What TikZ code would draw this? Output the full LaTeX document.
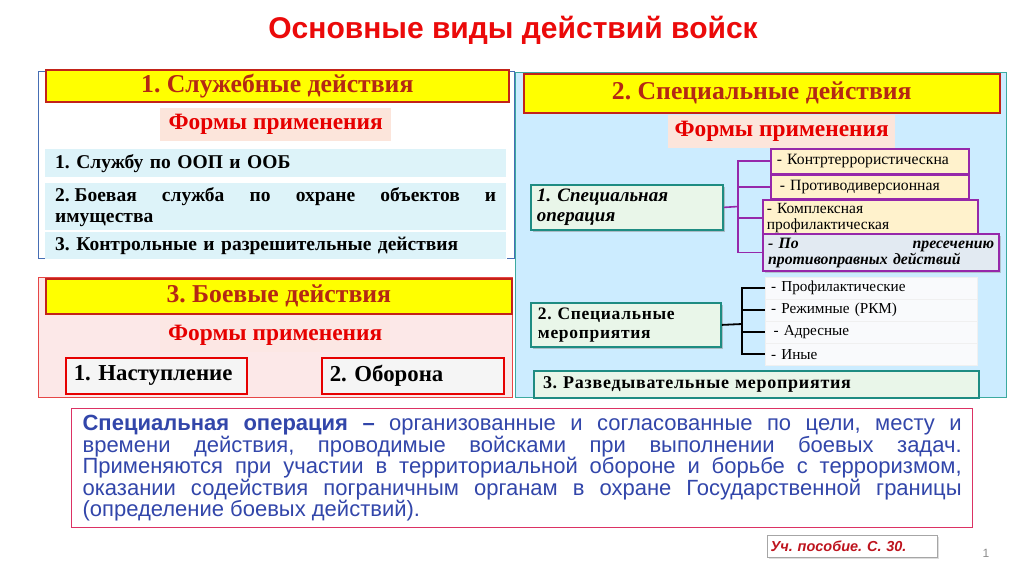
\documentclass[tikz,border=0pt]{standalone}
\usepackage{fontspec}
\setmainfont{Liberation Serif}
\setsansfont{Liberation Sans}
\newfontfamily\spacedserif[LetterSpace=4]{Liberation Serif}
\usetikzlibrary{shadows}
\frenchspacing
\newcommand\fsz[2]{\fontsize{#1}{#2}\selectfont}
\definecolor{titlered}{RGB}{235,10,10}
\definecolor{hdryellow}{RGB}{255,255,0}
\definecolor{hdrborder}{RGB}{195,35,25}
\definecolor{hdrtext}{RGB}{180,40,20}
\definecolor{formtext}{RGB}{230,0,0}
\definecolor{formfill}{RGB}{252,229,219}
\definecolor{cyanrow}{RGB}{221,243,249}
\definecolor{panelblue}{RGB}{204,236,255}
\definecolor{panelborder}{RGB}{60,170,160}
\definecolor{tealb}{RGB}{30,140,130}
\definecolor{greenfill}{RGB}{233,246,233}
\definecolor{purp}{RGB}{150,40,170}
\definecolor{cream}{RGB}{255,242,204}
\definecolor{dfill}{RGB}{226,234,242}
\definecolor{pinkpanel}{RGB}{252,232,232}
\definecolor{pinkborder}{RGB}{230,70,70}
\definecolor{bracketc}{RGB}{70,110,180}
\definecolor{defblue}{RGB}{50,70,170}
\definecolor{defborder}{RGB}{220,50,100}
\definecolor{citered}{RGB}{190,20,30}
\definecolor{whiterow}{RGB}{249,250,252}
\tikzset{
  box/.style={rectangle, anchor=north west, inner sep=0pt},
  hdr/.style={box, fill=hdryellow, draw=hdrborder, line width=1.6pt, text=hdrtext, font=\bfseries\fsz{25.7}{28}},
  form/.style={box, fill=formfill, text=formtext, font=\bfseries\fsz{23.4}{26}},
  lrow/.style={box, fill=cyanrow, inner xsep=10pt, font=\bfseries\fsz{19.5}{21}, align=left},
  redbox/.style={box, fill=white!96!black, draw=formtext, line width=1.5pt, inner xsep=8pt, font=\bfseries\fsz{22.8}{25}, align=left},
  tealbox/.style={box, fill=greenfill, draw=tealb, line width=1.8pt, inner xsep=6pt, align=left,
    drop shadow={shadow xshift=2pt, shadow yshift=-2pt, fill=black!45}},
  pbox/.style={box, fill=cream, draw=purp, line width=1.5pt, inner xsep=6pt, font=\fsz{15.7}{16}, align=left},
  wrow/.style={box, fill=whiterow, draw=black!6, inner xsep=6pt, font=\fsz{15.2}{16}, align=left},
  pline/.style={draw=purp, line width=1.6pt},
  bline/.style={draw=black, line width=1.8pt},
}
\begin{document}
\begin{tikzpicture}[x=1pt,y=-1pt]
\useasboundingbox (0,0) rectangle (1024,574);
\fill[white] (0,0) rectangle (1024,574);

% title
\node[font=\sffamily\bfseries\fsz{30}{34}, text=titlered] (title) at (513,30) {Основные виды действий войск};

% right panel
\draw[fill=panelblue, draw=panelborder, line width=1pt] (515,72) rectangle (1006,397);
% left bracket frame
\draw[bracketc, line width=1pt] (45,71) -- (38,71) -- (38,258) -- (45,258);
\draw[bracketc, line width=1pt] (507,71) -- (514,71) -- (514,258) -- (507,258);
% pink panel
\draw[fill=pinkpanel, draw=pinkborder, line width=0.8pt] (38,277) rectangle (512,397);

% section 1
\node[hdr, minimum width=463pt, minimum height=32pt] (h1) at (45,69) {1. Служебные действия};
\node[form, minimum width=231pt, minimum height=33pt] (f1) at (160,108) {Формы применения};
\node[lrow, minimum width=461pt, minimum height=28pt, text width=441pt] (r1) at (45,149) {1.~Службу по ООП и ООБ};
\node[lrow, minimum width=461pt, minimum height=47pt, text width=441pt, align=justify] (r2) at (45,183) {\mbox{2.\ Боевая} служба по охране объектов и\linebreak имущества};
\node[lrow, minimum width=461pt, minimum height=27pt, text width=441pt] (r3) at (45,232) {3.~Контрольные и разрешительные действия};

% section 3
\node[hdr, minimum width=466pt, minimum height=35pt] (h3) at (45,278) {3. Боевые действия};
\node[form, fill=pinkpanel!70!formfill, minimum width=230pt, minimum height=34pt] (f3) at (160,318) {Формы применения};
\node[redbox, minimum width=181pt, minimum height=36pt, text width=165pt] (n1) at (65,357) {1.~Наступление};
\node[redbox, minimum width=182pt, minimum height=36pt, text width=166pt] (n2) at (321,357) {2.~Оборона};

% section 2
\node[hdr, minimum width=476pt, minimum height=39pt] (h2) at (523,73) {2. Специальные действия};
\node[form, minimum width=227pt, minimum height=33pt] (f2) at (668,115) {Формы применения};

\node[tealbox, minimum width=192pt, minimum height=45pt, text width=180pt, font=\bfseries\itshape\fsz{19}{20}] (op) at (530,184) {1. Специальная\\операция};
\node[pbox, minimum width=198pt, minimum height=25pt, text width=186pt] (pa) at (770,148) {- Контртеррористическна};
\node[pbox, minimum width=198pt, minimum height=24pt, text width=180pt, inner xsep=9pt] (pb) at (770,174) {- Противодиверсионная};
\node[pbox, minimum width=215pt, minimum height=37pt, text width=207pt, inner xsep=4pt, font=\fsz{15.5}{15.5}] (pc) at (762,199) {- Комплексная\\профилактическая};
\node[pbox, fill=dfill, line width=2.2pt, minimum width=236pt, minimum height=37pt, text width=226pt, inner xsep=5pt, font=\bfseries\itshape\fsz{15.8}{16},
  drop shadow={shadow xshift=2pt, shadow yshift=-2pt, fill=black!40}] (pd) at (762,233) {-~По\hfill пресечению\\противоправных действий};

\coordinate (pj) at (738,206.5);
\draw[pline] (op.east) -- (pj);
\draw[pline] (pj) |- (pa.west);
\draw[pline] (pj) |- (pb.west);
\draw[pline] (pj) |- (pc.west);
\draw[pline] (pj) |- (pd.west);

\node[tealbox, minimum width=190pt, minimum height=44pt, text width=176pt, inner xsep=7pt, font=\spacedserif\bfseries\fsz{17.5}{19}] (sm) at (530,302) {2.~Специальные\\мероприятия};
\node[wrow, minimum width=212pt, minimum height=22pt, text width=200pt] (w1) at (765,277) {- Профилактические};
\node[wrow, minimum width=212pt, minimum height=22pt, text width=200pt] (w2) at (765,299) {- Режимные (РКМ)};
\node[wrow, minimum width=212pt, minimum height=22pt, text width=200pt] (w3) at (765,321) {\,- Адресные};
\node[wrow, minimum width=212pt, minimum height=22pt, text width=200pt] (w4) at (765,343) {- Иные};

\coordinate (sj) at (742,324);
\draw[bline] (sm.east) -- (sj);
\draw[bline] (sj) |- (w1.west);
\draw[bline] (sj) |- (w2.west);
\draw[bline] (sj) |- (w3.west);
\draw[bline] (sj) |- (w4.west);

\node[box, fill=greenfill, draw=tealb, line width=2pt, align=left, minimum width=445pt, minimum height=27pt, text width=427pt, inner xsep=9pt, font=\spacedserif\bfseries\fsz{18}{19}] (rz) at (533,370) {3.~Разведывательные мероприятия};

% definition
\node[box, draw=defborder, line width=1.2pt, minimum width=901pt, minimum height=119pt, inner xsep=11pt, text width=879pt, align=justify, text=defblue, font=\sffamily\fsz{22}{21.5}] (def) at (71,408)
{\textbf{Специальная операция –} организованные и согласованные по цели, месту и\linebreak
времени действия, проводимые войсками при выполнении боевых задач.\linebreak
Применяются при участии в территориальной обороне и борьбе с терроризмом,\linebreak
оказании содействия пограничным органам в охране Государственной границы\linebreak
(определение боевых действий).};

% citation
\node[box, draw=black!35, line width=1pt, fill=white, minimum width=170pt, minimum height=22pt, text width=164pt, inner xsep=3pt, align=left, text=citered, font=\sffamily\bfseries\itshape\fsz{14.5}{15},
  drop shadow={shadow xshift=1pt, shadow yshift=-1pt, fill=black!25}] (cite) at (767,535) {Уч. пособие. С. 30.};
\node[text=black!45, font=\sffamily\fsz{12}{14}] (pg) at (986,553) {1};
\end{tikzpicture}
\end{document}
